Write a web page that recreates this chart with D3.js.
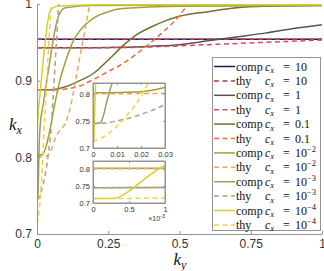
<!DOCTYPE html>
<html lang="en">
<head>
<meta charset="utf-8">
<title>kx vs ky</title>
<script src="https://cdn.jsdelivr.net/npm/d3@7"></script>
<style>
  body { margin: 0; background: #fff; }
  svg text { font-family: "Liberation Sans", Arial, sans-serif; fill: #333; }
  svg text.serif { font-family: "Liberation Serif", "Times New Roman", serif; fill: #111; }
</style>
</head>
<body>
<div id="chart1"></div>
<script>
// ---- values, [ky, kx] ----
const comp10 = [[0, 0.954], [0.5, 0.954], [1, 0.954]];
const thy10  = [[0, 0.954], [0.5, 0.954], [1, 0.954]];
const comp1  = [[0, 0.943], [0.2, 0.943], [0.3, 0.9435], [0.4, 0.945], [0.5, 0.947], [0.6, 0.952], [0.7, 0.957], [0.8, 0.962], [0.9, 0.968], [1, 0.973]];
const thy1   = [[0, 0.943], [0.2, 0.943], [0.4, 0.944], [0.6, 0.947], [0.8, 0.950], [1, 0.953]];
const comp01 = [[0, 0.888], [0.05, 0.888], [0.1, 0.892], [0.15, 0.9], [0.2, 0.91], [0.25, 0.927], [0.3, 0.945], [0.35, 0.96], [0.4, 0.97], [0.45, 0.978], [0.5, 0.984], [0.6, 0.99], [0.7, 0.995], [0.8, 0.997], [1, 0.998]];
const thy01  = [[0, 0.888], [0.05, 0.888], [0.1, 0.889], [0.15, 0.893], [0.2, 0.902], [0.25, 0.912], [0.3, 0.922], [0.35, 0.935], [0.4, 0.95], [0.45, 0.966], [0.5, 0.985], [0.53, 1.0]];
const comp2  = [[0, 0.802], [0.02, 0.804], [0.03, 0.812], [0.045, 0.835], [0.06, 0.865], [0.08, 0.9], [0.1, 0.925], [0.125, 0.95], [0.15, 0.965], [0.2, 0.982], [0.25, 0.99], [0.3, 0.994], [0.5, 0.997], [1, 0.998]];
const thy2   = [[0, 0.8], [0.03, 0.801], [0.05, 0.81], [0.065, 0.826], [0.08, 0.835], [0.1, 0.845], [0.12, 0.87], [0.14, 0.91], [0.16, 0.95], [0.18, 0.99], [0.185, 1.0]];
const comp3  = [[0, 0.745], [0.003, 0.746], [0.004, 0.755], [0.006, 0.79], [0.008, 0.82], [0.012, 0.845], [0.02, 0.865], [0.03, 0.89], [0.045, 0.925], [0.06, 0.96], [0.08, 0.988], [0.1, 0.995], [0.2, 0.998], [1, 0.999]];
const thy3   = [[0, 0.745], [0.005, 0.746], [0.01, 0.75], [0.02, 0.762], [0.03, 0.78], [0.04, 0.805], [0.05, 0.84], [0.056, 0.875], [0.065, 0.93], [0.074, 0.988], [0.076, 1.0]];
const comp4  = [[0, 0.713], [0.0003, 0.714], [0.0005, 0.735], [0.0007, 0.768], [0.001, 0.81], [0.0015, 0.835], [0.003, 0.85], [0.01, 0.88], [0.02, 0.92], [0.03, 0.955], [0.04, 0.982], [0.05, 0.993], [0.07, 0.997], [0.2, 0.999], [1, 0.999]];
const thy4   = [[0, 0.713], [0.001, 0.714], [0.005, 0.722], [0.01, 0.74], [0.015, 0.765], [0.02, 0.795], [0.023, 0.82], [0.03, 0.87], [0.04, 0.94], [0.048, 0.99], [0.05, 1.0]];

const seriesData = [comp10, thy10, comp1, thy1, comp01, thy01, comp2, thy2, comp3, thy3, comp4, thy4];
const seriesKind = ["comp", "thy", "comp", "thy", "comp", "thy", "comp", "thy", "comp", "thy", "comp", "thy"];
const seriesColor = ["#1d1b4f", "#b3365c", "#555555", "#d9485c", "#6f7030", "#f2693a", "#a3a135", "#f2a65c", "#9c9d66", "#a6a77a", "#d8d02a", "#f2d23c"];
const cxBase = ["10", "10", "1", "1", "0.1", "0.1", "10", "10", "10", "10", "10", "10"];
const cxExp  = ["", "", "", "", "", "", "\u22122", "\u22122", "\u22123", "\u22123", "\u22124", "\u22124"];

const mainXTicks = [0, 0.25, 0.5, 0.75, 1];
const mainYTicks = [0.7, 0.8, 0.9, 1];
const in1XTicks = [0, 0.01, 0.02, 0.03];
const in2XTicks = [0, 0.0005, 0.001];
const inYTicks = [0.7, 0.75, 0.8];

const W = 324, H = 271;
const axisGray = "#949494";

const svg = d3.select("#chart1").append("svg")
  .attr("width", W).attr("height", H);
const defs = svg.append("defs");

function drawLines(g, x, y, clipId) {
  const line = d3.line()
    .x(d => x(d[0]))
    .y(d => y(d[1]))
    .curve(d3.curveMonotoneX);
  g.append("g").attr("clip-path", "url(#" + clipId + ")")
    .selectAll("path")
    .data(seriesData)
    .enter().append("path")
      .attr("d", line)
      .attr("fill", "none")
      .attr("stroke", (d, i) => seriesColor[i])
      .attr("stroke-width", 1.5)
      .attr("stroke-dasharray", (d, i) => seriesKind[i] === "thy" ? "5,3.5" : null);
}

function styleAxis(sel) {
  sel.select(".domain").attr("stroke", axisGray);
  sel.selectAll(".tick line").attr("stroke", axisGray);
  sel.selectAll(".tick text").attr("fill", "#333");
}

// ---- main axes ----
const x = d3.scaleLinear().domain([0, 1]).range([37, 322]);
const y = d3.scaleLinear().domain([0.7, 1]).range([234, 4]);

defs.append("clipPath").attr("id", "clipMain").append("rect")
  .attr("x", x(0)).attr("y", y(1) - 1).attr("width", x(1) - x(0)).attr("height", y(0.7) - y(1) + 1);

drawLines(svg.append("g"), x, y, "clipMain");

const fmtMainX = d => d === 0 ? "0" : d === 1 ? "1" : String(d);
svg.append("g").attr("transform", "translate(0," + y(0.7) + ")")
  .call(d3.axisBottom(x).tickValues(mainXTicks).tickFormat(fmtMainX).tickSizeInner(-3).tickSizeOuter(0).tickPadding(5))
  .call(styleAxis)
  .call(g => g.selectAll("text").attr("font-size", 12).attr("font-family", "Liberation Sans, Arial, sans-serif"));

svg.append("g").attr("transform", "translate(" + x(0) + ",0)")
  .call(d3.axisLeft(y).tickValues(mainYTicks).tickFormat(d => d === 1 ? "1" : d3.format(".1f")(d)).tickSizeInner(-3).tickSizeOuter(0).tickPadding(5))
  .call(styleAxis)
  .call(g => g.selectAll("text").attr("font-size", 12).attr("font-family", "Liberation Sans, Arial, sans-serif"));

// axis labels
svg.append("text").attr("class", "serif")
  .attr("x", 180).attr("y", 265).attr("text-anchor", "middle")
  .attr("font-size", 17).attr("font-style", "italic")
  .text("k")
  .append("tspan").attr("dy", 4).attr("font-size", 12).text("y");

svg.append("text").attr("class", "serif")
  .attr("x", 9).attr("y", 130)
  .attr("font-size", 17).attr("font-style", "italic")
  .text("k")
  .append("tspan").attr("dy", 4).attr("font-size", 12).text("x");

// ---- insets ----
function drawInset(id, xDomain, xTicks, xFmt, yRange, top, bottom) {
  const ix = d3.scaleLinear().domain(xDomain).range([93, 165]);
  const iy = d3.scaleLinear().domain([0.7, yRange]).range([bottom, top]);
  const g = svg.append("g");
  g.append("rect").attr("x", 93).attr("y", top).attr("width", 72).attr("height", bottom - top)
    .attr("fill", "#fff");
  defs.append("clipPath").attr("id", id).append("rect")
    .attr("x", 93).attr("y", top).attr("width", 72).attr("height", bottom - top);
  drawLines(g, ix, iy, id);
  g.append("rect").attr("x", 93).attr("y", top).attr("width", 72).attr("height", bottom - top)
    .attr("fill", "none").attr("stroke", axisGray).attr("stroke-width", 1);
  g.append("g").attr("transform", "translate(0," + bottom + ")")
    .call(d3.axisBottom(ix).tickValues(xTicks).tickFormat(xFmt).tickSizeInner(-2).tickSizeOuter(0).tickPadding(4))
    .call(styleAxis)
    .call(s => s.selectAll("text").attr("font-size", 7.5));
  g.append("g").attr("transform", "translate(93,0)")
    .call(d3.axisLeft(iy).tickValues(inYTicks).tickFormat(d3.format("~g")).tickSizeInner(-2).tickSizeOuter(0).tickPadding(3))
    .call(styleAxis)
    .call(s => s.selectAll("text").attr("font-size", 7.5));
  g.append("g").attr("transform", "translate(165,0)")
    .call(d3.axisRight(iy).tickValues(inYTicks).tickFormat("").tickSizeInner(-2).tickSizeOuter(0))
    .call(styleAxis);
  g.append("g").attr("transform", "translate(0," + top + ")")
    .call(d3.axisTop(ix).tickValues(xTicks).tickFormat("").tickSizeInner(-2).tickSizeOuter(0))
    .call(styleAxis);
  return g;
}

drawInset("clipIn1", [0, 0.03], in1XTicks, d => d === 0 ? "0" : d3.format(".2f")(d), 0.82, 83, 148);
const in2 = drawInset("clipIn2", [0, 0.001], in2XTicks, d => d === 0 ? "0" : d3.format("~g")(d * 1000), 0.823, 161, 203);
in2.append("text").attr("x", 165).attr("y", 221).attr("text-anchor", "end")
  .attr("font-size", 7).text("\u00d710")
  .append("tspan").attr("dy", -3).attr("font-size", 5.5).text("-3");

// ---- legend ----
const lg = svg.append("g");
const legTop = 57, legStep = 14.4;
lg.append("rect").attr("x", 212.5).attr("y", legTop + 0.5).attr("width", 108).attr("height", 173)
  .attr("fill", "#fff").attr("stroke", axisGray).attr("stroke-width", 1);

const rows = lg.selectAll("g.row").data(seriesData).enter().append("g")
  .attr("transform", (d, i) => "translate(0," + (legTop + 9.5 + i * legStep) + ")");
rows.append("line")
  .attr("x1", 214).attr("x2", 235).attr("y1", 0).attr("y2", 0)
  .attr("stroke", (d, i) => seriesColor[i]).attr("stroke-width", 1.5)
  .attr("stroke-dasharray", (d, i) => seriesKind[i] === "thy" ? "5,3.5" : null);
rows.append("text").attr("class", "serif").attr("x", 236).attr("y", 4)
  .attr("font-size", 12).text((d, i) => seriesKind[i]);
rows.append("text").attr("class", "serif").attr("x", 265).attr("y", 4)
  .attr("font-size", 12).attr("font-style", "italic").text("c")
  .append("tspan").attr("dy", 2.5).attr("font-size", 8.5).text("x");
rows.append("text").attr("class", "serif").attr("x", 283).attr("y", 4)
  .attr("font-size", 12).text("=");
const vals = rows.append("text").attr("class", "serif").attr("x", 295).attr("y", 4)
  .attr("font-size", 12).text((d, i) => cxBase[i]);
vals.append("tspan").attr("dy", -5).attr("font-size", 8.5).text((d, i) => cxExp[i]);
</script>
</body>
</html>
